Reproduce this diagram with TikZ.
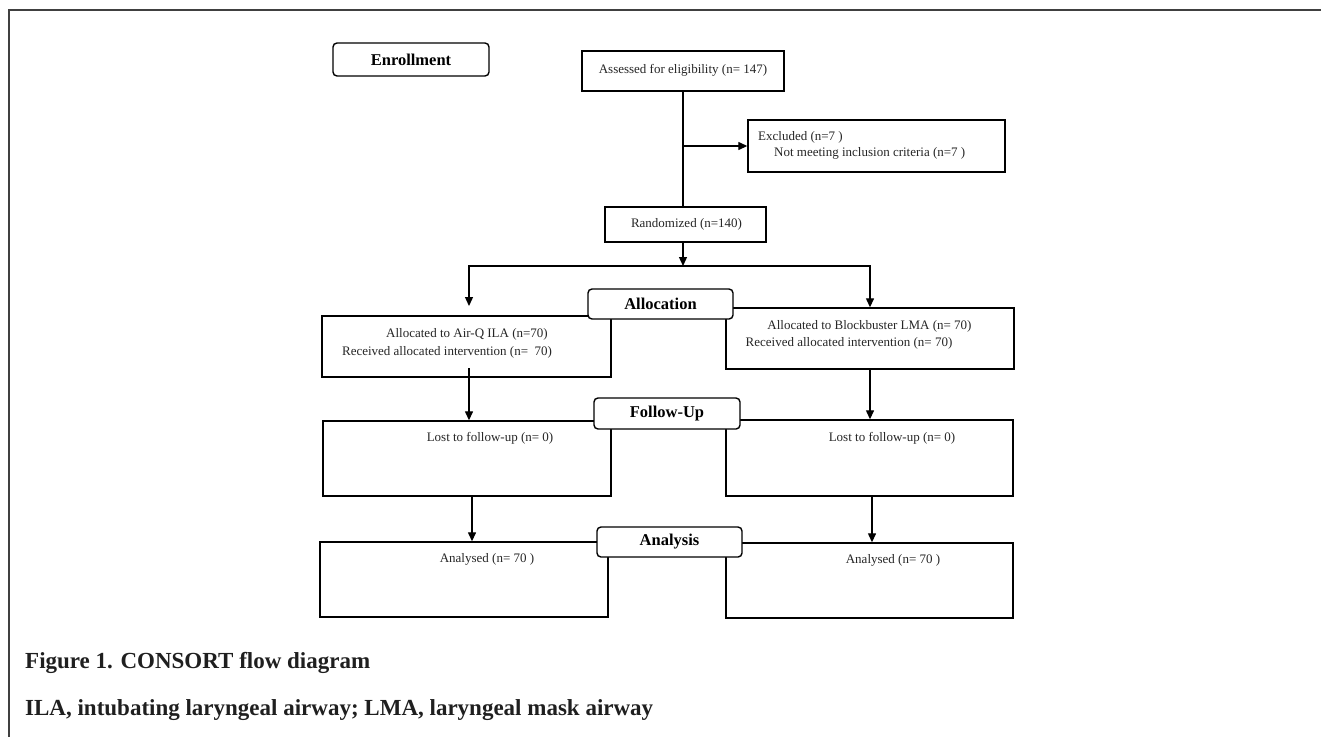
\documentclass[tikz,border=0pt]{standalone}
\usepackage{fontspec}
\setmainfont{Liberation Serif}
\usetikzlibrary{arrows.meta,calc}
\tikzset{
  boxs/.style={draw=black, line width=1.4pt, fill=white, inner sep=0pt},
  lbl/.style={draw=black, line width=1.4pt, fill=white, rounded corners=4pt, inner sep=0pt, font=\fontsize{16.5}{20}\selectfont\bfseries},
  txt/.style={inner sep=0pt, font=\fontsize{13}{16}\selectfont, text=black!85},
  captxt/.style={inner sep=0pt, anchor=west, font=\fontsize{23}{28}\selectfont\bfseries, text=black!88},
  arr/.style={line width=1.3pt, -{Triangle[length=9pt,width=8pt]}},
  ln/.style={line width=1.3pt},
}
\begin{document}
\begin{tikzpicture}[x=1pt,y=-1pt]
\useasboundingbox (0,0) rectangle (1321,737);
\draw[line width=1.6pt, black!75] (1321,10) -- (9,10) -- (9,737);

% main boxes
\node[boxs, minimum width=202pt, minimum height=40pt] (assess) at (683,71) {};
\node[boxs, minimum width=257pt, minimum height=52pt] (excl) at (876.5,146) {};
\node[boxs, minimum width=161pt, minimum height=35pt] (rand) at (685.5,224.5) {};
\node[boxs, minimum width=289pt, minimum height=61pt] (allocL) at (466.5,346.5) {};
\node[boxs, minimum width=288pt, minimum height=61pt] (allocR) at (870,338.5) {};
\node[boxs, minimum width=288pt, minimum height=75pt] (fuL) at (467,458.5) {};
\node[boxs, minimum width=287pt, minimum height=76pt] (fuR) at (869.5,458) {};
\node[boxs, minimum width=288pt, minimum height=75pt] (anL) at (464,579.5) {};
\node[boxs, minimum width=287pt, minimum height=75pt] (anR) at (869.5,580.5) {};

% texts
\node[txt] (tAssess) at (683,70) {Assessed for eligibility (n= 147)};
\node[txt, anchor=west] (tEx1) at (758,137) {Excluded (n=7 )};
\node[txt, anchor=west] (tEx2) at (774,153) {Not meeting inclusion criteria (n=7 )};
\node[txt] (tRand) at (686.5,224) {Randomized (n=140)};
\node[txt] (tAL1) at (467,334) {Allocated to Air-Q ILA (n=70)};
\node[txt] (tAL2) at (447,352) {Received allocated intervention (n=\ \ 70)};
\node[txt] (tAR1) at (869.5,326) {Allocated to Blockbuster LMA (n= 70)};
\node[txt] (tAR2) at (849,343) {Received allocated intervention (n= 70)};
\node[txt] (tFL) at (490,438) {Lost to follow-up (n= 0)};
\node[txt] (tFR) at (892,438) {Lost to follow-up (n= 0)};
\node[txt] (tNL) at (487,559) {Analysed (n= 70 )};
\node[txt] (tNR) at (893,560) {Analysed (n= 70 )};

% connectors
\coordinate (split) at (683,266);
\coordinate (tipL) at (469,306);
\coordinate (aLs) at (469,368);
\draw[ln] (assess.south) -- (assess.south |- rand.north);
\draw[arr] (assess.south |- excl.west) -- (excl.west);
\draw[arr] (rand.south -| split) -- (split);
\draw[arr] (split) -| (tipL);
\draw[arr] (split) -| (allocR.north);
\draw[arr] (aLs) -- (aLs |- fuL.north);
\draw[arr] (allocR.south) -- (fuR.north -| allocR.south);
\draw[arr] ([xshift=5pt]fuL.south) -- ([xshift=5pt]fuL.south |- anL.north);
\draw[arr] ([xshift=2.5pt]fuR.south) -- ([xshift=2.5pt]fuR.south |- anR.north);

% stage labels
\node[lbl, minimum width=156pt, minimum height=33pt] (enroll) at (411,59.5) {Enrollment};
\node[lbl, minimum width=145pt, minimum height=30pt] (alloc) at (660.5,304) {Allocation};
\node[lbl, minimum width=146pt, minimum height=31pt] (fu) at (667,413.5) {Follow-Up};
\node[lbl, minimum width=145pt, minimum height=30pt] (an) at (669.5,542) {Analysis};

% caption
\node[captxt] (cap1) at (25,663) {Figure 1. CONSORT flow diagram};
\node[captxt] (cap2) at (25,710) {ILA, intubating laryngeal airway; LMA, laryngeal mask airway};
\end{tikzpicture}
\end{document}
